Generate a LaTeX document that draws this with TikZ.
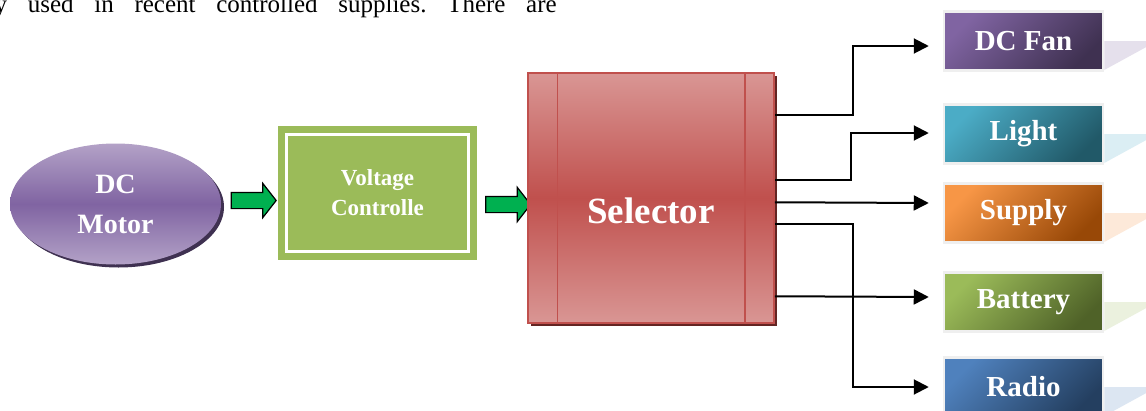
\documentclass[tikz,border=0pt]{standalone}
\usepackage{fontspec}
\setmainfont{Liberation Serif}
\usetikzlibrary{shapes.geometric,shapes.arrows,shadows,arrows.meta,calc}
\definecolor{motorMid}{HTML}{8064A2}
\definecolor{motorLight}{HTML}{B3A2C7}
\definecolor{motorShadow}{HTML}{3F3151}
\definecolor{arrowGreen}{HTML}{00B050}
\definecolor{vcGreen}{HTML}{9BBB59}
\definecolor{selLight}{HTML}{D99694}
\definecolor{selMid}{HTML}{C0504D}
\definecolor{selShadow}{HTML}{632523}
\definecolor{boxBorder}{HTML}{EFEFEF}
\definecolor{fanA}{HTML}{8064A2}\definecolor{fanB}{HTML}{3F3151}\definecolor{fanP}{HTML}{E5E0EC}
\definecolor{lightA}{HTML}{4BACC6}\definecolor{lightB}{HTML}{215968}\definecolor{lightP}{HTML}{DBEEF4}
\definecolor{supA}{HTML}{F79646}\definecolor{supB}{HTML}{984807}\definecolor{supP}{HTML}{FDE9D9}
\definecolor{batA}{HTML}{9BBB59}\definecolor{batB}{HTML}{4F6228}\definecolor{batP}{HTML}{EBF1DE}
\definecolor{radA}{HTML}{4F81BD}\definecolor{radB}{HTML}{243F60}\definecolor{radP}{HTML}{DCE6F2}
\begin{document}
\begin{tikzpicture}[x=1pt,y=-1pt,
  greenarrow/.style={single arrow, draw=black, line width=1.2pt, fill=arrowGreen,
    inner xsep=0pt, inner ysep=7.5pt, single arrow head extend=9pt,
    single arrow tip angle=104, single arrow head indent=0pt, minimum height=45pt},
  outbox/.style={rectangle, draw=boxBorder, line width=2.5pt, minimum width=159pt,
    minimum height=59pt, text=white, font=\bfseries\fontsize{29}{34}\selectfont},
  shadebox/.style 2 args={top color=#1, bottom color=#2, shading angle=45},
  conn/.style={line width=2pt, -{Triangle[length=15pt,width=15pt]}},
  lbl/.style={text=white, font=\bfseries\fontsize{37}{40}\selectfont, inner sep=0pt}
]
\clip (0,0) rectangle (1146,410);
\fill[white] (0,0) rectangle (1146,410);

% top running text
\node[anchor=base west, inner sep=0pt, font=\fontsize{25}{30}\selectfont] (toptext) at (-5.5,12)
  {\makebox[562pt][l]{y\hfill used\hfill in\hfill recent\hfill controlled\hfill supplies.\hfill There\hfill are}};

% DC motor
\node[ellipse, minimum width=211pt, minimum height=121pt,
  top color=motorLight, bottom color=motorLight, middle color=motorMid,
  drop shadow={shadow xshift=3pt, shadow yshift=-3pt, opacity=1, fill=motorShadow},
  text=white, font=\bfseries\fontsize{28}{40}\selectfont, align=center] (motor) at (115.5,204) {DC\\Motor};

% green arrows
\node[greenarrow] (a1) at (250.5,200.5) {};

% voltage controller
\node[rectangle, fill=vcGreen, minimum width=199pt, minimum height=134pt, inner sep=0pt,
  text=white, font=\bfseries\fontsize{23}{30}\selectfont, align=center] (vc) at (377.5,193) {Voltage\\Controlle};
\draw[white, line width=3pt] ($(vc.north west)+(9,9)$) rectangle ($(vc.south east)+(-9,-9)$);

\node[greenarrow] (a2) at (505,204.5) {};

% selector
\node[rectangle, draw=selMid, line width=1.5pt, minimum width=246pt, minimum height=250pt,
  top color=selLight, bottom color=selLight, middle color=selMid,
  drop shadow={shadow xshift=3pt, shadow yshift=-3pt, opacity=1, fill=selShadow}] (sel) at (651,198) {};
\draw[selMid, line width=1.5pt] ($(sel.north west)+(30,0)$) -- ($(sel.south west)+(30,0)$);
\draw[selMid, line width=1.5pt] ($(sel.north east)+(-30,0)$) -- ($(sel.south east)+(-30,0)$);
\node[lbl] (sellbl) at (651,211) {Selector};

% output boxes
\node[outbox, shadebox={fanA}{fanB}] (fan) at (1023.5,41) {DC Fan};
\node[outbox, shadebox={lightA}{lightB}] (light) at (1023.5,134) {Light};
\node[outbox, shadebox={supA}{supB}] (supply) at (1023.5,213) {Supply};
\node[outbox, shadebox={batA}{batB}] (battery) at (1023.5,302) {Battery};
\node[outbox, shadebox={radA}{radB}] (radio) at (1023.5,387) {Radio};

% pale reflections
\foreach \b/\c in {fan/fanP, light/lightP, supply/supP, battery/batP, radio/radP}{
  \fill[\c] (\b.east) -- ($(\b.east)+(53,0)$) -- ($(\b.east)+(0,29)$) -- cycle;
}

% connectors
\draw[conn] ($(sel.north east)+(0,43)$) -- ++(78,0) |- ($(fan.west)+(-14,5)$);
\draw[conn] ($(sel.north east)+(0,108)$) -- ++(76,0) |- ($(light.west)+(-14,-1)$);
\draw[conn] ($(sel.north east)+(0,130)$) -- ($(supply.west)+(-14,-10)$);
\draw[conn] ($(sel.north east)+(0,152)$) -- ++(78,0) |- ($(radio.west)+(-14,0)$);
\draw[conn] ($(sel.north east)+(0,224)$) -- ($(battery.west)+(-14,-5)$);
\end{tikzpicture}
\end{document}
